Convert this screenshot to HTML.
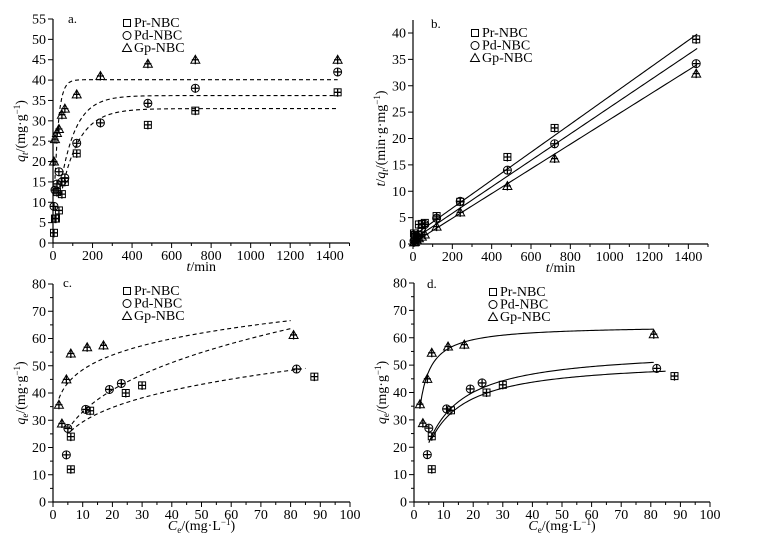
<!DOCTYPE html>
<html><head><meta charset="utf-8"><style>
body{margin:0;background:#fff}
svg{display:block;font-family:"Liberation Serif",serif;}
</style></head><body>
<svg id="c" width="762" height="543" viewBox="0 0 762 543" xmlns="http://www.w3.org/2000/svg"></svg>
<script>
// ---- Panel a data (kinetics) ----
const aPrT=[5,10,15,20,30,45,60,120,480,720,1440];
const aPrQ=[2.5,6,6,12.5,8,12,15,22,29,32.5,37];
const aPdT=[5,10,20,30,45,60,120,240,480,720,1440];
const aPdQ=[9,13,14.5,17.5,15,16,24.5,29.5,34.3,38,42];
const aGpT=[5,10,20,30,45,60,120,240,480,720,1440];
const aGpQ=[20,25.5,27,28,31.5,33,36.5,41,44,45,45];
const aFitQe=[33,36.2,40.1];
const aFitK=[0.011,0.013,0.05];
// ---- Panel b data (t/q) ----
const bPrT=[5,10,20,30,45,60,120,240,480,720,1440];
const bPrY=[2,1.7,0.9,3.7,3.8,4,5.3,8,16.5,22,38.8];
const bPdT=[5,10,20,30,45,60,120,240,480,720,1440];
const bPdY=[0.6,0.8,1.4,1.7,3,3.7,4.9,8.1,14,19,34.2];
const bGpT=[5,10,20,30,45,60,120,240,480,720,1440];
const bGpY=[0.3,0.4,0.7,1.1,1.4,1.8,3.3,6,11,16.2,32.3];
const bIntercept=[1.5,0.8,0.2];
const bSlope=[0.0265,0.0251,0.0234];
// ---- Panel c/d data (isotherms) ----
const cPrC=[6,6,12.5,24.5,30,88];
const cPrQ=[12,24,33.5,40,42.8,46];
const cPdC=[4.5,5,11,19,23,82];
const cPdQ=[17.3,27,34,41.3,43.5,48.8];
const cGpC=[2,3,4.5,6,11.5,17,81];
const cGpQ=[35.7,28.8,45,54.5,56.8,57.5,61.3];
const fK=[16.95,16,34.2], fN=[0.239,0.315,0.152], fRange=[[6,85],[5,80],[2,80]];
const lQm=[52,56,64.5], lK=[0.133,0.126,0.57], lRange=[[6,85],[5,81],[2,81]];

const NS="http://www.w3.org/2000/svg";
const svg=document.getElementById('c');
function el(tag,attrs,parent){const e=document.createElementNS(NS,tag);for(const k in attrs)e.setAttribute(k,attrs[k]);(parent||svg).appendChild(e);return e;}

function panel(o){
  const g=el('g',{});
  
  
  const X=v=>o.x0+(v-o.xmin)/(o.xmax-o.xmin)*(o.x1-o.x0);
  const Y=v=>o.y0-(v-o.ymin)/(o.ymax-o.ymin)*(o.y0-o.y1);
  const ax=el('path',{d:`M${o.x0},${o.yTop}V${o.y0}H${o.x1}`,stroke:'#000','stroke-width':1.2,fill:'none'},g);
  
  
  for(let v=o.xmin;v<=o.xmax+1e-9;v+=o.xminor){
    const maj=Math.abs(Math.round(v/o.xstep)*o.xstep-v)<1e-6;
    el('line',{x1:X(v),x2:X(v),y1:o.y0,y2:o.y0+(maj?5:3),stroke:'#000'},g);
    if(maj){const t=el('text',{x:X(v),y:o.y0+17,'text-anchor':'middle','font-size':14},g);t.textContent=Math.round(v);
      
      }
  }
  for(let v=o.ymin;v<=o.ymax+1e-9;v+=o.yminor){
    const maj=Math.abs(Math.round(v/o.ystep)*o.ystep-v)<1e-6;
    el('line',{x1:o.x0,x2:o.x0-(maj?5:3),y1:Y(v),y2:Y(v),stroke:'#000'},g);
    if(maj){const t=el('text',{x:o.x0-7,y:Y(v)+4.5,'text-anchor':'end','font-size':14},g);t.textContent=Math.round(v);
      
      }
  }
  const xt=el('text',{x:(o.x0+o.x1)/2,y:o.y0+28,'text-anchor':'middle','font-size':14},g);xt.innerHTML=o.xtitle;
  
  
  const yt=el('text',{x:0,y:0,'text-anchor':'middle','font-size':14,transform:`translate(${o.x0-28},${(o.y0+o.y1)/2}) rotate(-90)`},g);yt.innerHTML=o.ytitle;
  
  
  const pl=el('text',{x:o.lab[0],y:o.lab[1],'font-size':13},g);pl.textContent=o.label;
  
  
  o.curves.forEach(c=>{
    let d='';const n=120;
    for(let i=0;i<=n;i++){const xv=c.from+(c.to-c.from)*i/n;d+=(i?'L':'M')+X(xv).toFixed(2)+','+Y(c.f(xv)).toFixed(2);}
    const p=el('path',{d,fill:'none',stroke:'#000','stroke-width':1.1,'stroke-dasharray':o.dash?'4,3':'none'},g);
    
    
  });
  o.series.forEach((s,si)=>{
    s.xs.forEach((xv,i)=>{const m=marker(g,si,X(xv),Y(s.ys[i]),true);
      
      });
  });
  const names=['Pr-NBC','Pd-NBC','Gp-NBC'];
  names.forEach((nm,i)=>{
    const ly=o.leg[1]+i*12.5;
    const m=marker(g,i,o.leg[0],ly-4,false);
    
    
    const t=el('text',{x:o.leg[0]+7,y:ly,'font-size':14},g);t.textContent=nm;
    
    
  });
}
function marker(g,type,x,y,cross){
  const m=el('g',{},g);const a={fill:'none',stroke:'#000','stroke-width':1};
  if(type===0)el('rect',Object.assign({x:x-3.5,y:y-3.5,width:7,height:7},a),m);
  else if(type===1)el('circle',Object.assign({cx:x,cy:y,r:4},a),m);
  else el('path',Object.assign({d:`M${x},${y-4.5}L${x+4.5},${y+3.5}L${x-4.5},${y+3.5}Z`},a),m);
  if(cross){el('path',{d:`M${x-3.5},${y}H${x+3.5}M${x},${y-3.5}V${y+4.5}`,stroke:'#000','stroke-width':1.3},m);}
  return m;
}
panel({name:'panel-a',label:'a.',lab:[68,23],x0:53,x1:349.5,xmin:0,xmax:1500,xstep:200,xminor:100,y0:243,y1:19,yTop:19,ymin:0,ymax:55,ystep:5,yminor:5,
  xtitle:'<tspan font-style="italic">t</tspan>/min',ytitle:'<tspan font-style="italic">q</tspan><tspan font-style="italic" font-size="9" dy="3">t</tspan><tspan dy="-3">/(mg·g</tspan><tspan font-size="9" dy="-5">−1</tspan><tspan dy="5">)</tspan>',
  leg:[127,27],dash:true,
  series:[{xs:aPrT,ys:aPrQ},{xs:aPdT,ys:aPdQ},{xs:aGpT,ys:aGpQ}],
  curves:[0,1,2].map(i=>({from:[40,30,10][i],to:1440,f:t=>aFitQe[i]*(1-Math.exp(-aFitK[i]*t))}))});
panel({name:'panel-b',label:'b.',lab:[431,28],x0:413,x1:708,xmin:0,xmax:1500,xstep:200,xminor:100,y0:244,y1:33,yTop:20,ymin:0,ymax:40,ystep:5,yminor:5,
  xtitle:'<tspan font-style="italic">t</tspan>/min',ytitle:'<tspan font-style="italic">t</tspan>/<tspan font-style="italic">q</tspan><tspan font-style="italic" font-size="9" dy="3">t</tspan><tspan dy="-3">/(min·g·mg</tspan><tspan font-size="9" dy="-5">−1</tspan><tspan dy="5">)</tspan>',
  leg:[475,37],dash:false,
  series:[{xs:bPrT,ys:bPrY},{xs:bPdT,ys:bPdY},{xs:bGpT,ys:bGpY}],
  curves:[0,1,2].map(i=>({from:0,to:1445,f:t=>bIntercept[i]+bSlope[i]*t}))});
panel({name:'panel-c',label:'c.',lab:[63,287],x0:53,x1:350,xmin:0,xmax:100,xstep:10,xminor:5,y0:502,y1:284,yTop:284,ymin:0,ymax:80,ystep:10,yminor:5,
  xtitle:'<tspan font-style="italic">C</tspan><tspan font-size="9" dy="3">e</tspan><tspan dy="-3">/(mg·L</tspan><tspan font-size="9" dy="-5">−1</tspan><tspan dy="5">)</tspan>',
  ytitle:'<tspan font-style="italic">q</tspan><tspan font-size="9" dy="3">e</tspan><tspan dy="-3">/(mg·g</tspan><tspan font-size="9" dy="-5">−1</tspan><tspan dy="5">)</tspan>',
  leg:[127,295],dash:true,
  series:[{xs:cPrC,ys:cPrQ},{xs:cPdC,ys:cPdQ},{xs:cGpC,ys:cGpQ}],
  curves:[0,1,2].map(i=>({from:fRange[i][0],to:fRange[i][1],f:c=>fK[i]*Math.pow(c,fN[i])}))});
panel({name:'panel-d',label:'d.',lab:[427,288],x0:414,x1:710,xmin:0,xmax:100,xstep:10,xminor:5,y0:502,y1:283,yTop:283,ymin:0,ymax:80,ystep:10,yminor:5,
  xtitle:'<tspan font-style="italic">C</tspan><tspan font-size="9" dy="3">e</tspan><tspan dy="-3">/(mg·L</tspan><tspan font-size="9" dy="-5">−1</tspan><tspan dy="5">)</tspan>',
  ytitle:'<tspan font-style="italic">q</tspan><tspan font-size="9" dy="3">e</tspan><tspan dy="-3">/(mg·g</tspan><tspan font-size="9" dy="-5">−1</tspan><tspan dy="5">)</tspan>',
  leg:[493,296],dash:false,
  series:[{xs:cPrC,ys:cPrQ},{xs:cPdC,ys:cPdQ},{xs:cGpC,ys:cGpQ}],
  curves:[0,1,2].map(i=>({from:lRange[i][0],to:lRange[i][1],f:c=>lQm[i]*lK[i]*c/(1+lK[i]*c)}))});
</script>
</body></html>
